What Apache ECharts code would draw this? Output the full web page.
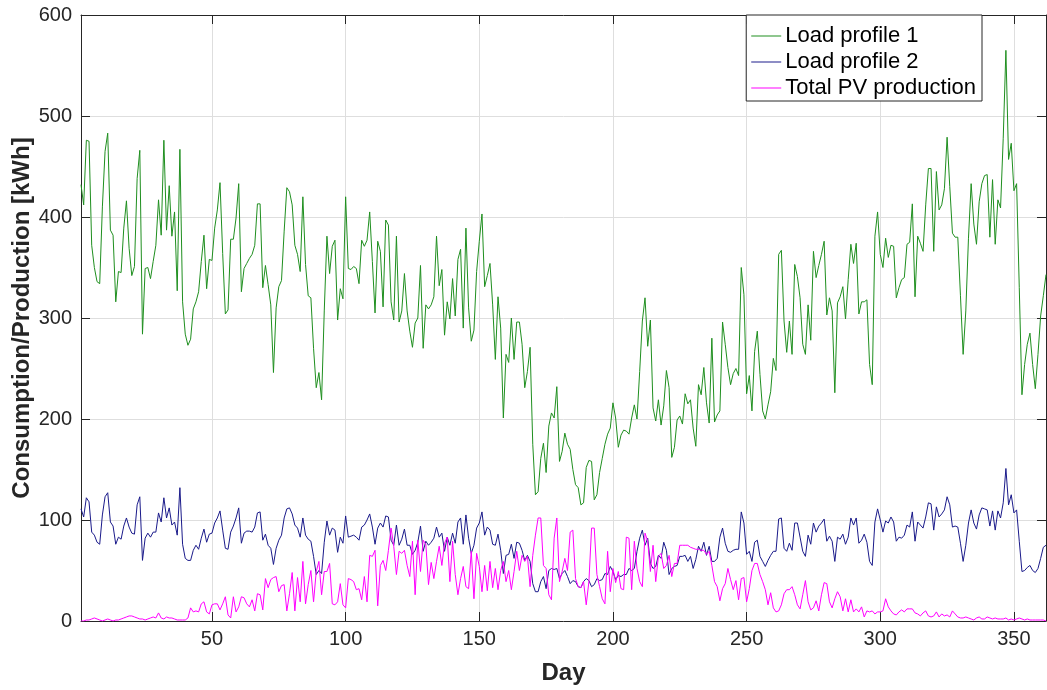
<!DOCTYPE html>
<html>
<head>
<meta charset="utf-8">
<script src="https://cdn.jsdelivr.net/npm/echarts@6/dist/echarts.min.js"></script>
<style>
html,body{margin:0;padding:0;background:#fff;}
#chart{width:1047px;height:690px;}
</style>
</head>
<body>
<div id="chart"></div>
<script>
// Daily values, day 1 .. 362
const loadProfile1 = [
432,412,476,475,372,350,336,334,410,465,483,387,382,316,346,345,389,416,369,342,351,438,466,284,349,350,339,356,372,417,382,476,387,431,381,405,327,467,316,284,273,279,309,316,326,356,382,329,358,357,389,407,434,364,304,308,378,378,399,433,326,349,
354,359,363,372,413,413,330,352,333,313,246,310,331,337,386,429,425,412,372,363,346,420,353,322,320,270,231,246,219,307,381,344,371,377,298,329,319,420,349,348,351,349,334,377,371,377,405,356,305,376,366,311,397,392,316,298,381,296,307,344,307,
287,271,295,300,352,270,313,309,313,321,381,332,348,283,316,299,339,302,358,368,290,389,310,277,288,346,376,403,331,342,354,313,259,321,290,201,264,256,300,259,296,296,274,231,247,271,175,125,128,161,176,147,193,206,201,232,158,168,186,175,170,
150,135,132,115,117,152,159,158,120,125,147,161,175,185,191,216,201,172,184,189,188,185,201,214,200,247,297,320,272,298,211,198,219,194,213,248,231,162,172,199,203,195,225,215,219,191,173,234,224,251,216,196,280,197,204,208,296,274,251,234,
245,250,243,350,323,225,243,208,267,287,244,208,200,214,227,260,248,363,367,297,266,297,264,353,341,320,274,264,313,278,366,340,352,363,376,303,320,307,226,315,321,331,299,338,373,354,374,304,316,316,318,254,234,381,405,
363,350,379,360,372,371,320,330,338,340,373,375,413,321,381,374,366,412,448,448,366,445,407,412,428,479,430,384,380,380,322,264,307,379,433,393,373,415,433,441,442,380,437,373,417,409,478,565,457,473,426,433,330,224,254,274,285,254,230,264,302,322,343
];
const loadProfile2 = [
111,103,122,118,88,85,78,76,105,123,127,98,94,76,83,81,94,102,93,87,86,115,123,60,82,87,83,88,88,107,98,122,102,112,95,98,85,132,76,62,60,60,70,75,71,82,91,78,86,87,97,102,109,90,72,71,88,94,102,112,77,
87,89,89,88,93,107,108,80,86,75,72,56,72,80,85,102,111,112,106,95,92,83,102,85,81,79,64,46,50,47,78,99,85,92,90,68,83,77,104,83,84,85,83,80,93,95,100,106,93,76,92,97,93,104,103,80,75,95,75,81,91,75,
75,66,70,78,94,69,79,75,78,82,93,83,87,69,83,75,87,77,98,102,76,105,82,67,75,92,97,108,85,93,90,76,75,86,70,47,65,66,76,62,78,77,70,60,65,59,37,29,29,39,44,32,50,52,51,52,42,47,50,44,37,
40,39,34,33,39,42,40,34,36,42,40,41,47,46,54,49,41,45,44,46,46,52,50,52,69,82,90,75,82,57,52,54,65,62,78,70,46,52,54,55,64,64,65,59,64,52,61,74,69,78,65,74,59,59,62,83,92,77,69,68,
70,71,71,108,97,66,69,59,78,80,64,59,54,60,65,69,69,101,102,72,69,77,70,97,97,83,69,64,85,76,97,88,94,97,101,79,84,79,59,83,81,86,76,83,102,95,102,77,80,86,78,59,55,98,111,
100,88,99,97,103,98,79,83,82,85,95,93,108,79,98,95,92,103,117,116,90,113,103,106,110,123,115,93,94,93,77,59,75,97,110,97,91,105,112,111,110,94,109,90,109,102,117,151,115,125,107,110,79,49,50,53,55,50,48,52,62,73,75
];
const pvProduction = [
0,0,1,1,2,3,2,1,0,1,2,1,0,1,1,2,3,4,5,5,4,3,2,2,1,2,3,4,3,8,3,2,4,3,3,2,1,1,1,1,3,13,9,10,9,17,19,9,7,16,17,17,11,17,24,6,3,24,9,14,24,23,
17,14,21,10,27,26,11,42,33,41,43,44,29,35,36,10,27,48,10,43,19,59,17,36,50,19,49,59,26,49,49,57,17,16,19,37,16,13,42,41,39,31,32,21,44,19,65,64,70,15,55,60,50,70,92,74,46,69,67,70,55,
44,79,26,80,49,80,76,36,58,42,59,74,55,77,83,39,79,46,26,42,54,34,32,69,22,67,54,29,55,30,59,33,52,31,50,59,39,50,31,49,69,50,65,59,64,34,65,85,102,102,55,52,26,21,82,102,39,49,
62,50,88,90,42,34,33,39,16,39,92,92,46,34,22,17,69,29,52,38,49,32,31,83,82,31,79,52,39,34,87,79,49,75,39,64,67,52,55,65,44,57,57,75,75,75,75,73,72,71,71,70,70,66,69,55,39,34,20,32,37,52,41,
31,40,21,42,43,19,32,50,57,57,46,39,31,16,28,13,9,10,16,27,31,31,34,26,16,12,26,40,19,11,13,20,10,26,38,37,19,13,22,29,24,10,22,9,21,9,12,9,14,4,10,9,10,7,9,
9,10,22,14,10,7,6,9,11,9,12,12,12,8,7,5,8,10,5,4,5,9,4,7,5,6,4,10,7,4,3,3,4,3,2,1,3,4,2,2,4,3,2,3,2,2,2,3,1,2,1,2,3,2,1,2,1,1,1,1,1,1,0
];
const seriesNames = ['Load profile 1', 'Load profile 2', 'Total PV production'];
const xTickValues = [50, 100, 150, 200, 250, 300, 350];
const xAxisTitle = 'Day';
const yAxisTitle = 'Consumption/Production [kWh]';

const toPairs = arr => arr.map((v, i) => [i + 1, v]);
const dayMin = 1, dayMax = loadProfile1.length;

const axisColor = '#262626';
const gridColor = '#dedede';
const font = 'Liberation Sans, Arial, Helvetica, sans-serif';

const chart = echarts.init(document.getElementById('chart'), null, {renderer: 'canvas'});
chart.setOption({
  animation: false,
  backgroundColor: '#ffffff',
  textStyle: {fontFamily: font},
  grid: {left: 81, right: 1, top: 15, bottom: 69, containLabel: false, outerBoundsMode: 'none'},
  legend: {
    orient: 'vertical',
    right: 65, top: 15,
    data: seriesNames,
    icon: 'rect',
    backgroundColor: '#ffffff',
    borderColor: '#262626',
    borderWidth: 1,
    borderRadius: 0,
    padding: [10, 6, 2, 5],
    itemGap: 4,
    itemWidth: 30,
    itemHeight: 1,
    textStyle: {fontSize: 22, color: '#000', fontFamily: font, padding: [0, 0, 0, -1]}
  },
  xAxis: [{
    type: 'value', min: dayMin, max: dayMax, splitNumber: 7,
    name: xAxisTitle, nameLocation: 'middle', nameGap: 40, nameMoveOverlap: false,
    nameTextStyle: {fontSize: 24, fontWeight: 'bold', color: axisColor, fontFamily: font},
    axisLine: {show: true, onZero: false, lineStyle: {color: axisColor, width: 1}},
    axisTick: {show: true, inside: true, length: 9, customValues: xTickValues, lineStyle: {color: axisColor}},
    axisLabel: {customValues: xTickValues, fontSize: 20, color: axisColor, margin: 8, fontFamily: font},
    splitLine: {show: true, lineStyle: {color: gridColor, width: 1}}
  }, {
    type: 'value', min: dayMin, max: dayMax, splitNumber: 7, position: 'top',
    axisLine: {show: true, onZero: false, lineStyle: {color: axisColor, width: 1}},
    axisTick: {show: true, inside: true, length: 9, customValues: xTickValues, lineStyle: {color: axisColor}},
    axisLabel: {show: false},
    splitLine: {show: false}
  }],
  yAxis: [{
    type: 'value', min: 0, max: 600, interval: 100,
    name: yAxisTitle, nameLocation: 'middle', nameGap: 47, nameMoveOverlap: false,
    nameTextStyle: {fontSize: 24, fontWeight: 'bold', color: axisColor, fontFamily: font},
    axisLine: {show: true, onZero: false, lineStyle: {color: axisColor, width: 1}},
    axisTick: {show: true, inside: true, length: 9, lineStyle: {color: axisColor}},
    axisLabel: {fontSize: 20, color: axisColor, margin: 9, fontFamily: font},
    splitLine: {show: true, lineStyle: {color: gridColor, width: 1}}
  }, {
    type: 'value', min: 0, max: 600, interval: 100, position: 'right',
    axisLine: {show: true, onZero: false, lineStyle: {color: axisColor, width: 1}},
    axisTick: {show: true, inside: true, length: 9, lineStyle: {color: axisColor}},
    axisLabel: {show: false},
    splitLine: {show: false}
  }],
  series: [
    {name: seriesNames[0], type: 'line', data: toPairs(loadProfile1), symbol: 'none',
     lineStyle: {color: '#1f8f1f', width: 1}, itemStyle: {color: '#1f8f1f'}},
    {name: seriesNames[1], type: 'line', data: toPairs(loadProfile2), symbol: 'none',
     lineStyle: {color: '#1a1a8a', width: 1}, itemStyle: {color: '#1a1a8a'}},
    {name: seriesNames[2], type: 'line', data: toPairs(pvProduction), symbol: 'none',
     lineStyle: {color: '#ff00ff', width: 1}, itemStyle: {color: '#ff00ff'}}
  ]
});
</script>
</body>
</html>
